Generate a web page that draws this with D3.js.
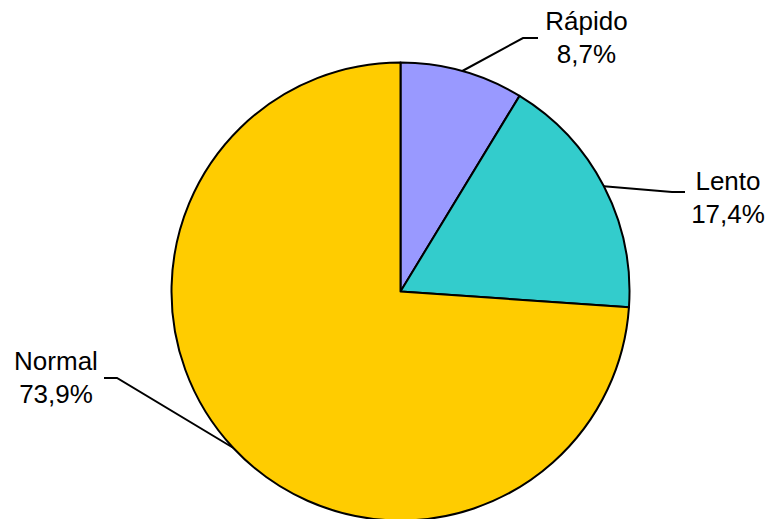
<!DOCTYPE html>
<html>
<head>
<meta charset="utf-8">
<script src="https://cdn.jsdelivr.net/npm/d3@7"></script>
<style>
  html, body { margin: 0; padding: 0; background: #fff; }
  svg { display: block; }
  text { font-family: "Liberation Sans", Arial, sans-serif; font-size: 26px; fill: #000; }
</style>
</head>
<body>
<svg id="chart"></svg>
<script>
const width = 768;
const height = 519;

// data
const categories = ["Rápido", "Lento", "Normal"];
const values = [8.7, 17.4, 73.9];
const labels = ["8,7%", "17,4%", "73,9%"];
const colors = ["#9999FF", "#33CCCC", "#FFCC00"];

// label placement: elbow of leader line, end of horizontal tail, text centre
const labelPos = [
    { elbow: [523, 38], tail: [538, 38], text: [586.5, 30] },
    { elbow: [672, 192], tail: [685, 192], text: [728, 190] },
    { elbow: [117, 378], tail: [104, 378], text: [56, 370] }
];

const cx = 400.5, cy = 291.5, radius = 229;

const svg = d3.select("#chart")
    .attr("width", width)
    .attr("height", height);

const data = categories.map((c, i) => ({ name: c, value: values[i], label: labels[i], color: colors[i] }));

const pie = d3.pie()
    .value(d => d.value)
    .sort(null);

const arc = d3.arc()
    .innerRadius(0)
    .outerRadius(radius);

const arcs = pie(data);

const g = svg.append("g")
    .attr("transform", `translate(${cx},${cy})`);

g.selectAll(".slice")
    .data(arcs)
    .enter().append("path")
    .attr("class", "slice")
    .attr("d", arc)
    .attr("fill", d => d.data.color)
    .attr("stroke", "#000")
    .attr("stroke-width", 2)
    .attr("stroke-linejoin", "round");

// leader lines
svg.selectAll(".leader")
    .data(arcs)
    .enter().append("polyline")
    .attr("class", "leader")
    .attr("fill", "none")
    .attr("stroke", "#000")
    .attr("stroke-width", 2)
    .attr("points", (d, i) => {
        const a = (d.startAngle + d.endAngle) / 2;
        const x0 = cx + radius * Math.sin(a);
        const y0 = cy - radius * Math.cos(a);
        const p = labelPos[i];
        return [[x0, y0], p.elbow, p.tail].map(q => q.join(",")).join(" ");
    });

// labels
const lab = svg.selectAll(".label")
    .data(arcs)
    .enter().append("text")
    .attr("class", "label")
    .attr("text-anchor", "middle")
    .attr("x", (d, i) => labelPos[i].text[0])
    .attr("y", (d, i) => labelPos[i].text[1]);

lab.append("tspan")
    .attr("x", (d, i) => labelPos[i].text[0])
    .text(d => d.data.name);

lab.append("tspan")
    .attr("x", (d, i) => labelPos[i].text[0])
    .attr("dy", 33)
    .text(d => d.data.label);
</script>
</body>
</html>
